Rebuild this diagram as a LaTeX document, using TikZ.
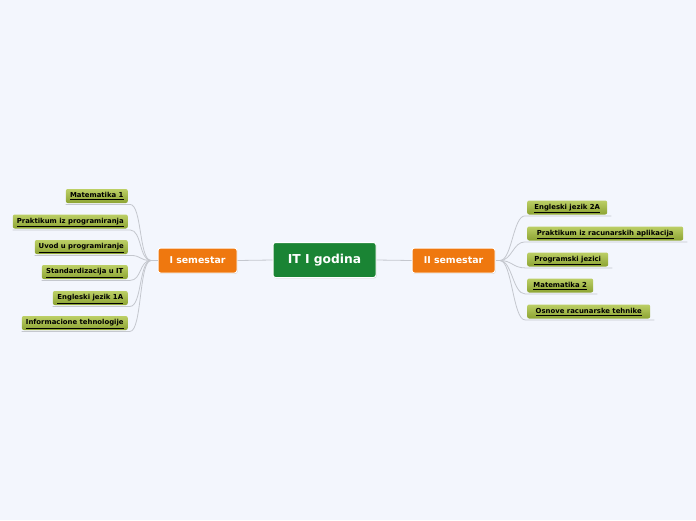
\documentclass[tikz,border=0pt]{standalone}
\usepackage{fontspec}
\setmainfont{DejaVu Sans}
\usetikzlibrary{shadows,calc}
\definecolor{bgc}{HTML}{F3F6FD}
\definecolor{linec}{HTML}{C4C7CE}
\definecolor{orangec}{HTML}{EF780F}
\definecolor{greenc}{HTML}{1A8434}
\definecolor{leaftop}{HTML}{BCCF66}
\definecolor{leafbot}{HTML}{8CA332}
\tikzset{
  x=1pt, y=-1pt,
  centerbox/.style={draw=white, line width=1pt, fill=greenc, rounded corners=2.5pt,
     text=white, font=\bfseries\fontsize{12.3}{14}\selectfont,
     minimum width=103pt, minimum height=35pt, inner sep=0pt,
     drop shadow={shadow xshift=0.6pt, shadow yshift=-0.8pt, opacity=0.35}},
  semibox/.style={draw=white, line width=1pt, fill=orangec, rounded corners=2.5pt,
     text=white, font=\bfseries\fontsize{9.4}{11}\selectfont,
     minimum height=25pt, inner sep=0pt,
     drop shadow={shadow xshift=0.6pt, shadow yshift=-0.8pt, opacity=0.35}},
  leafbox/.style={top color=leaftop, bottom color=leafbot, rounded corners=2pt,
     text=black, font=\bfseries\fontsize{6.9}{8}\selectfont,
     minimum height=14pt, inner sep=0pt, text height=5.4pt, text depth=1.6pt},
  conn/.style={draw=linec, line width=0.8pt},
}
\newcommand{\ul}[1]{\underline{#1}}
\begin{document}
\begin{tikzpicture}
\useasboundingbox[fill=bgc] (0,0) rectangle (696,520);

% central and semester nodes
\node[centerbox] (c) at (324.5,260) {IT I godina};
\node[semibox, minimum width=79pt] (s1) at (197.5,260.5) {I semestar};
\node[semibox, minimum width=83pt] (s2) at (453.5,260.5) {II semestar};

\draw[conn] (s1.east) -- (c.west);
\draw[conn] (c.east) -- (s2.west);

\coordinate (h1) at (151,260.5);
\coordinate (h2) at (500,260.5);
\draw[conn] (s1.west) -- (h1);
\draw[conn] (s2.east) -- (h2);

% left leaves (anchor east at x=128)
\node[leafbox, anchor=east, minimum width=62pt]  (l1) at (128,196)   {\ul{Matematika 1}};
\node[leafbox, anchor=east, minimum width=115pt] (l2) at (128,221.5) {\ul{Praktikum iz programiranja}};
\node[leafbox, anchor=east, minimum width=93pt]  (l3) at (128,247)   {\ul{Uvod u programiranje}};
\node[leafbox, anchor=east, minimum width=86pt]  (l4) at (128,272)   {\ul{Standardizacija u IT}};
\node[leafbox, anchor=east, minimum width=75pt]  (l5) at (128,298)   {\ul{Engleski jezik 1A}};
\node[leafbox, anchor=east, minimum width=106pt] (l6) at (128,323)   {\ul{Informacione tehnologije}};

% right leaves (anchor west at x=527)
\node[leafbox, anchor=west, minimum width=80pt]  (r1) at (527,207.5) {\ul{Engleski jezik 2A}};
\node[leafbox, anchor=west, minimum width=156pt] (r2) at (527,233.5) {\ul{Praktikum iz racunarskih aplikacija}};
\node[leafbox, anchor=west, minimum width=81pt]  (r3) at (527,259.5) {\ul{Programski jezici}};
\node[leafbox, anchor=west, minimum width=66pt]  (r4) at (527,285.5) {\ul{Matematika 2}};
\node[leafbox, anchor=west, minimum width=123pt] (r5) at (527,311.5) {\ul{Osnove racunarske tehnike}};

% connectors
\foreach \n in {l1,l2,l3,l4,l5,l6}{
  \draw[conn] (h1) .. controls ($(h1)+(-12,0)$) and ($(\n.south east)+(14,1.2)$) .. ($(\n.south east)+(2,1.2)$)
     -- ($(\n.south west)+(0,1.2)$);
}
\foreach \n in {r1,r2,r3,r4,r5}{
  \draw[conn] (h2) .. controls ($(h2)+(12,0)$) and ($(\n.south west)+(-14,1.2)$) .. ($(\n.south west)+(-2,1.2)$)
     -- ($(\n.south east)+(4,1.2)$);
}
\end{tikzpicture}
\end{document}
